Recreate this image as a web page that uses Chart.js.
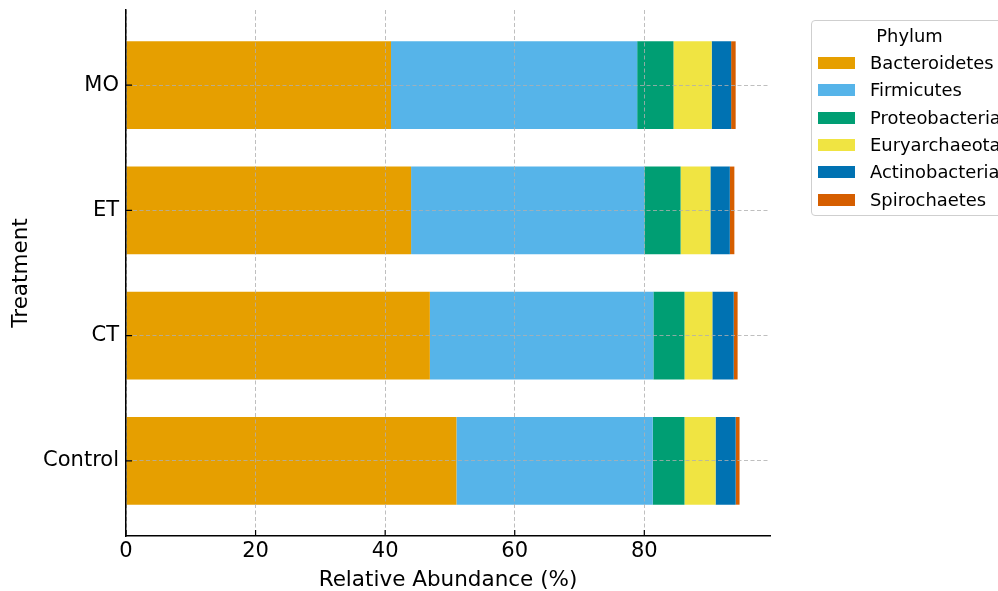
<!DOCTYPE html>
<html>
<head>
<meta charset="utf-8">
<script src="https://cdn.jsdelivr.net/npm/chart.js@4.4.0/dist/chart.umd.min.js"></script>
<style>
  html, body { margin: 0; padding: 0; background: #fff; overflow: hidden; }
  #wrap { position: relative; width: 998px; height: 591px; }
  #legend {
    position: absolute; left: 811px; top: 20px; width: 197px; height: 196px;
    border: 1px solid #cfcfcf; border-radius: 4px; background: #fff;
    font-family: "DejaVu Sans", sans-serif; font-size: 17.9px; color: #000;
    box-sizing: border-box;
  }
  #legend .title { position: absolute; left: 0; width: 100%; top: 4px; text-align: center; }
  #legend .row { position: absolute; left: 6px; height: 22px; line-height: 22px; white-space: nowrap; }
  #legend .sw { display: inline-block; width: 37px; height: 12px; vertical-align: middle; margin-right: 15px; position: relative; top: -1px; }
</style>
</head>
<body>
<div id="wrap">
  <canvas id="phylumChart" width="998" height="591"></canvas>
  <div id="legend"></div>
</div>
<script>
// categories, bottom to top
const treatments = ["Control", "CT", "ET", "MO"];
const phyla = ["Bacteroidetes", "Firmicutes", "Proteobacteria", "Euryarchaeota", "Actinobacteria", "Spirochaetes"];

// relative abundance (%) per treatment, same order as treatments
const bacteroidetes = [51.0, 46.9, 44.0, 40.9];
const firmicutes = [30.3, 34.5, 36.0, 38.0];
const proteobacteria = [4.9, 4.8, 5.6, 5.6];
const euryarchaeota = [4.8, 4.3, 4.6, 5.9];
const actinobacteria = [3.1, 3.3, 3.0, 3.0];
const spirochaetes = [0.6, 0.6, 0.7, 0.7];

const xTicks = [0, 20, 40, 60, 80];

const seriesValues = [bacteroidetes, firmicutes, proteobacteria, euryarchaeota, actinobacteria, spirochaetes];
const colors = ["#E69F00", "#56B4E9", "#009E73", "#F0E442", "#0072B2", "#D55E00"];

Chart.defaults.font.family = "'DejaVu Sans', sans-serif";
Chart.defaults.color = "#000";

const datasets = phyla.map((name, i) => ({
  label: name,
  data: seriesValues[i].map((v, j) => ({ x: v, y: j })),
  backgroundColor: colors[i],
  borderWidth: 0,
  barPercentage: 0.7,
  categoryPercentage: 1.0
}));

// short tick marks pointing into the plot, like the original
const inwardTicks = {
  id: "inwardTicks",
  afterDraw(chart) {
    const { ctx, chartArea, scales } = chart;
    ctx.save();
    ctx.strokeStyle = "#000";
    ctx.lineWidth = 1.2;
    ctx.beginPath();
    scales.x.ticks.forEach(t => {
      const px = scales.x.getPixelForValue(t.value);
      ctx.moveTo(px, chartArea.bottom);
      ctx.lineTo(px, chartArea.bottom - 6);
    });
    scales.y.ticks.forEach(t => {
      const py = scales.y.getPixelForValue(t.value);
      ctx.moveTo(chartArea.left, py);
      ctx.lineTo(chartArea.left + 6, py);
    });
    ctx.stroke();
    ctx.restore();
  }
};

// grid sits on top of the bars in the original
const gridStyle = {
  color: "rgba(175,175,175,0.8)",
  lineWidth: 1,
  drawTicks: false,
  offset: false,
  z: 1
};
const borderStyle = { color: "#000", width: 1.5, dash: [4, 2.5], z: 2 };

new Chart(document.getElementById("phylumChart").getContext("2d"), {
  type: "bar",
  data: { datasets: datasets },
  options: {
    indexAxis: "y",
    responsive: false,
    animation: false,
    layout: { padding: { left: 0, top: 10, right: 228, bottom: 0 } },
    plugins: { legend: { display: false }, tooltip: { enabled: false } },
    scales: {
      x: {
        type: "linear",
        stacked: true,
        min: 0,
        max: 99.4,
        afterFit: s => { s.height = 55; },
        afterBuildTicks: s => { s.ticks = xTicks.map(v => ({ value: v })); },
        grid: gridStyle,
        border: borderStyle,
        ticks: { font: { size: 21 }, padding: 3 },
        title: {
          display: true,
          text: "Relative Abundance (%)",
          font: { size: 21.5, lineHeight: 1 },
          padding: { top: 0, bottom: 0 }
        }
      },
      y: {
        type: "linear",
        stacked: true,
        offset: false,
        min: -0.6,
        max: 3.6,
        afterFit: s => { s.width = 126; s.paddingTop = 0; s.paddingBottom = 0; },
        afterBuildTicks: s => { s.ticks = treatments.map((t, i) => ({ value: i })); },
        grid: gridStyle,
        border: borderStyle,
        ticks: {
          font: { size: 21 },
          padding: 7,
          callback: v => treatments[v] || ""
        },
        title: {
          display: true,
          text: "Treatment",
          font: { size: 21.5, lineHeight: 1 },
          padding: { top: 11, bottom: 0 }
        }
      }
    }
  },
  plugins: [inwardTicks]
});

// legend box
const legend = document.getElementById("legend");
const title = document.createElement("div");
title.className = "title";
title.textContent = "Phylum";
legend.appendChild(title);
phyla.forEach((name, i) => {
  const row = document.createElement("div");
  row.className = "row";
  row.style.top = (31 + i * 27.3) + "px";
  const sw = document.createElement("span");
  sw.className = "sw";
  sw.style.background = colors[i];
  row.appendChild(sw);
  row.appendChild(document.createTextNode(name));
  legend.appendChild(row);
});
</script>
</body>
</html>
